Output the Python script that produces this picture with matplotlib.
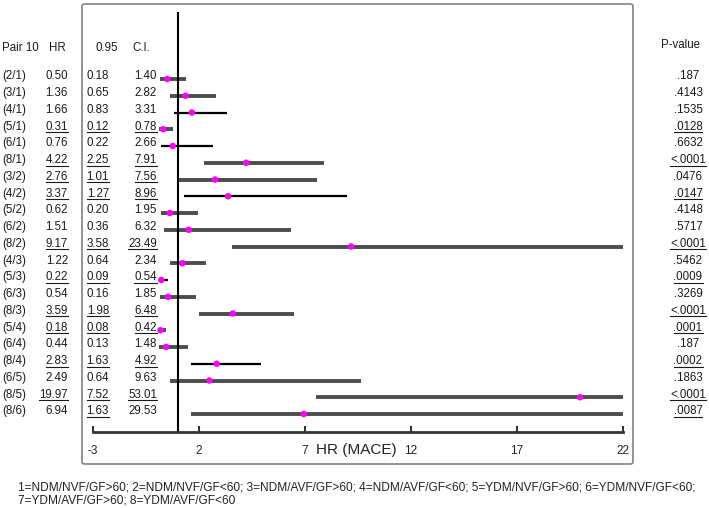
import matplotlib
matplotlib.use("Agg")
import matplotlib.pyplot as plt
import matplotlib.transforms as mtransforms
from matplotlib.patches import FancyBboxPatch
from matplotlib.lines import Line2D

plt.rcParams["axes.unicode_minus"] = False

# data
pairs = ["(2/1)", "(3/1)", "(4/1)", "(5/1)", "(6/1)", "(8/1)", "(3/2)", "(4/2)", "(5/2)",
         "(6/2)", "(8/2)", "(4/3)", "(5/3)", "(6/3)", "(8/3)", "(5/4)", "(6/4)", "(8/4)",
         "(6/5)", "(8/5)", "(8/6)"]
hr = [0.50, 1.36, 1.66, 0.31, 0.76, 4.22, 2.76, 3.37, 0.62, 1.51, 9.17, 1.22, 0.22, 0.54,
      3.59, 0.18, 0.44, 2.83, 2.49, 19.97, 6.94]
ci_lo = [0.18, 0.65, 0.83, 0.12, 0.22, 2.25, 1.01, 1.27, 0.20, 0.36, 3.58, 0.64, 0.09, 0.16,
         1.98, 0.08, 0.13, 1.63, 0.64, 7.52, 1.63]
ci_hi = [1.40, 2.82, 3.31, 0.78, 2.66, 7.91, 7.56, 8.96, 1.95, 6.32, 23.49, 2.34, 0.54, 1.85,
         6.48, 0.42, 1.48, 4.92, 9.63, 53.01, 29.53]
pvals = [".187", ".4143", ".1535", ".0128", ".6632", "<.0001", ".0476", ".0147", ".4148",
         ".5717", "<.0001", ".5462", ".0009", ".3269", "<.0001", ".0001", ".187", ".0002",
         ".1863", "<.0001", ".0087"]
# which cells are underlined in the table
ul_hr = [0, 0, 0, 1, 0, 1, 1, 1, 0, 0, 1, 0, 1, 0, 1, 1, 0, 1, 0, 1, 0]
ul_lo = [0, 0, 0, 1, 0, 1, 1, 1, 0, 0, 1, 0, 1, 0, 1, 1, 0, 1, 0, 1, 1]
ul_hi = [0, 0, 0, 1, 0, 1, 1, 1, 0, 0, 1, 0, 1, 0, 1, 1, 0, 1, 0, 1, 0]
ul_p = [0, 0, 0, 1, 0, 1, 0, 1, 0, 0, 1, 0, 1, 0, 1, 1, 0, 1, 0, 1, 1]
# rows drawn with a thin black line instead of the thick grey one
black_rows = [2, 4, 7, 12, 17]
xticks = [-3, 2, 7, 12, 17, 22]
footnote = ("1=NDM/NVF/GF>60; 2=NDM/NVF/GF<60; 3=NDM/AVF/GF>60; 4=NDM/AVF/GF<60; "
            "5=YDM/NVF/GF>60; 6=YDM/NVF/GF<60;\n7=YDM/AVF/GF>60; 8=YDM/AVF/GF<60")

W, H = 709, 508
fig = plt.figure(figsize=(W / 100, H / 100), dpi=100)
font = "Liberation Sans"

# outer rounded box
box = FancyBboxPatch((82 / W, 1 - 464 / H), (633 - 82) / W, (464 - 4) / H,
                     boxstyle="round,pad=0,rounding_size=0.004", transform=fig.transFigure,
                     fill=False, edgecolor="#8a8a8a", linewidth=1.3)
fig.patches.append(box)

# forest plot axes: x -3..22 at px 93..623, top at px 12, axis line at px 432
ax = fig.add_axes([93 / W, 1 - 432 / H, 530 / W, 420 / H])
ax.patch.set_alpha(0)
row_px = 16.75
ax.set_xlim(-3, 22)
ax.set_ylim((432 - 79) / row_px, (12 - 79) / row_px)

rows = list(range(len(pairs)))
for i in rows:
    if i in black_rows:
        ax.plot([ci_lo[i], ci_hi[i]], [i, i], color="black", lw=1.6, solid_capstyle="butt")
    else:
        ax.plot([ci_lo[i], ci_hi[i]], [i, i], color="#4d4d4d", lw=2.8, solid_capstyle="butt")
ax.scatter(hr, rows, s=22, color="#ff00ff", zorder=3, edgecolors="none")
ax.axvline(1, color="black", lw=1.5)

for s in ["top", "right", "left"]:
    ax.spines[s].set_visible(False)
ax.spines["bottom"].set_linewidth(2)
ax.spines["bottom"].set_color("#333333")
ax.set_yticks([])
ax.set_xticks(xticks)
ax.tick_params(axis="x", direction="in", length=4, width=1.5, color="#333333",
               pad=9, labelsize=8.5, labelcolor="#222222")
for lab in ax.get_xticklabels():
    lab.set_fontfamily(font)
ax.text((356 - 93) / 530, -(450 - 432) / 420, "HR (MACE)", transform=ax.transAxes,
        ha="center", va="center", fontsize=11, family=font, color="#222222")

# table text, x in figure pixels, y in row units
tr = mtransforms.blended_transform_factory(fig.transFigure, ax.transData)
hdr_y = (48 - 79) / row_px
kw = dict(transform=tr, va="center", fontsize=8.3, family=font, color="#1a1a1a")
fig.text(2 / W, hdr_y, "Pair 10", ha="left", **kw)
fig.text(57 / W, hdr_y, "HR", ha="center", **kw)
fig.text(107 / W, hdr_y, "0.95", ha="center", **kw)
fig.text(141 / W, hdr_y, "C.I.", ha="center", **kw)
fig.text(681 / W, (45 - 79) / row_px, "P-value", ha="center", **kw)

underlined = []
for i in rows:
    y = i - 0.15
    fig.text(2 / W, y, pairs[i], ha="left", **kw)
    t1 = fig.text(68 / W, y, f"{hr[i]:.2f}", ha="right", **kw)
    t2 = fig.text(109 / W, y, f"{ci_lo[i]:.2f}", ha="right", **kw)
    t3 = fig.text(157 / W, y, f"{ci_hi[i]:.2f}", ha="right", **kw)
    t4 = fig.text(688 / W, y, pvals[i], ha="center", **kw)
    for t, flag in [(t1, ul_hr[i]), (t2, ul_lo[i]), (t3, ul_hi[i]), (t4, ul_p[i])]:
        if flag:
            underlined.append(t)

fig.text(18 / W, 1 - 481 / H, footnote, ha="left", va="top", fontsize=8.6,
         family=font, color="#222222", linespacing=1.2)

# draw underlines below the flagged cells
fig.canvas.draw()
renderer = fig.canvas.get_renderer()
for t in underlined:
    bb = t.get_window_extent(renderer)
    yy = (bb.y0 + 0.5) / H
    fig.add_artist(Line2D([bb.x0 / W, bb.x1 / W], [yy, yy], transform=fig.transFigure,
                          color="#1a1a1a", lw=0.8))

fig.savefig("out.png", dpi=100)
